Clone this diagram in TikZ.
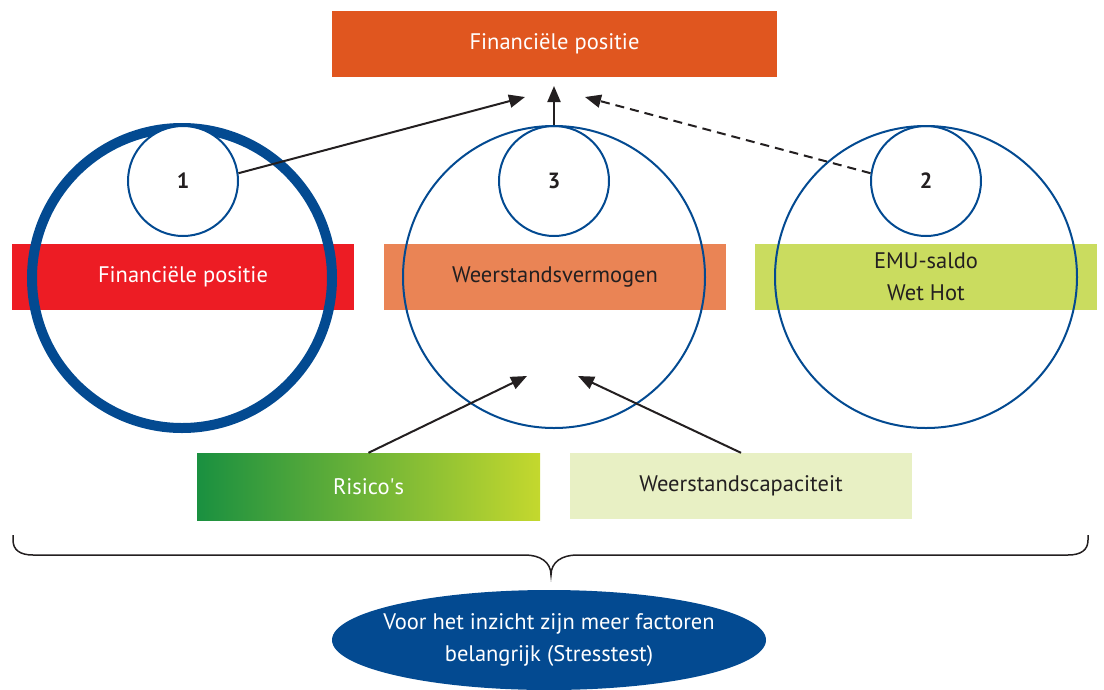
\documentclass[tikz,border=0pt]{standalone}
\usepackage{fontspec}
\setmainfont{PT Sans}
\usetikzlibrary{arrows.meta,shapes.geometric}
\definecolor{topor}{HTML}{E0561F}
\definecolor{redbar}{HTML}{ED1C24}
\definecolor{midor}{HTML}{EA8455}
\definecolor{limebar}{HTML}{CADC5F}
\definecolor{paleg}{HTML}{E8F0C4}
\definecolor{gdark}{HTML}{1A9040}
\definecolor{glight}{HTML}{C4D82E}
\definecolor{navy}{HTML}{034A91}
\definecolor{ink}{HTML}{231F20}
\tikzset{
  bar/.style={minimum width=342pt,minimum height=66pt,inner sep=0pt,font=\fontsize{22.5}{32}\selectfont,align=center},
  bigc/.style={circle,draw=navy,line width=2pt,minimum size=302pt,inner sep=0pt},
  smallc/.style={circle,draw=navy,line width=2pt,minimum size=110pt,inner sep=0pt,font=\fontsize{22}{26}\selectfont\bfseries,text=ink},
  arr/.style={draw=ink,line width=2pt,-{Triangle[length=16pt,width=13pt]}},
}
\begin{document}
\begin{tikzpicture}[x=1pt,y=-1pt]
\useasboundingbox (0,0) rectangle (1104,689);
% top box
\node[bar,fill=topor,text=white,minimum width=445pt] (top) at (554.5,44) {Financiële positie};
% bars
\node[bar,fill=redbar,text=white] (fin) at (183,277) {Financiële positie};
\node[bar,fill=midor,text=ink] (wv) at (555,277) {Weerstandsvermogen};
\node[bar,fill=limebar,text=ink] (emu) at (926,277) {EMU-saldo\\Wet Hot};
% big circles
\node[bigc,line width=10pt,minimum size=300pt] (b1) at (182,278) {};
\node[bigc] (b3) at (554,277) {};
\node[bigc] (b2) at (926,277) {};
% small circles
\node[smallc,fill=white] (c1) at (183,181) {1};
\node[smallc] (c3) at (554,181) {3};
\node[smallc] (c2) at (926,181) {2};
% bottom boxes
\node[bar,left color=gdark,right color=glight,text=white,minimum width=343pt,minimum height=67pt] (ris) at (368.5,486.5) {Risico\textquotesingle s};
\node[bar,fill=paleg,text=ink,minimum height=66pt] (wc) at (741,486) {Weerstandscapaciteit};
% arrow targets
\coordinate (t1) at (525,97);
\coordinate (t3) at (554,86);
\coordinate (t2) at (585,97);
\coordinate (u1) at (527,376);
\coordinate (u2) at (578,376);
\draw[arr] (c1.8) -- (t1);
\draw[arr] (c3.north) -- (t3);
\draw[arr,dashed,dash pattern=on 9pt off 6pt] (c2.172) -- (t2);
\draw[arr] (ris.north) -- (u1);
\draw[arr] (wc.north) -- (u2);
% brace
\coordinate (bl) at (13,535);
\coordinate (br) at (1088,535);
\coordinate (bt) at (551,575);
\draw[ink,line width=1.5pt] (bl) -- (13,540) .. controls (13,550) and (20,555) .. (33,555) -- (525,555) .. controls (540,555) and (551,562) .. (bt)
  .. controls (551,562) and (562,555) .. (577,555) -- (1068,555) .. controls (1081,555) and (1088,550) .. (1088,540) -- (br);
% ellipse
\node[ellipse,fill=navy,text=white,minimum width=434pt,minimum height=100pt,inner xsep=-25pt,inner ysep=0pt,align=center,font=\fontsize{22.5}{32}\selectfont] (ell) at (549,640) {Voor het inzicht zijn meer factoren\\belangrijk (Stresstest)};
\end{tikzpicture}
\end{document}
